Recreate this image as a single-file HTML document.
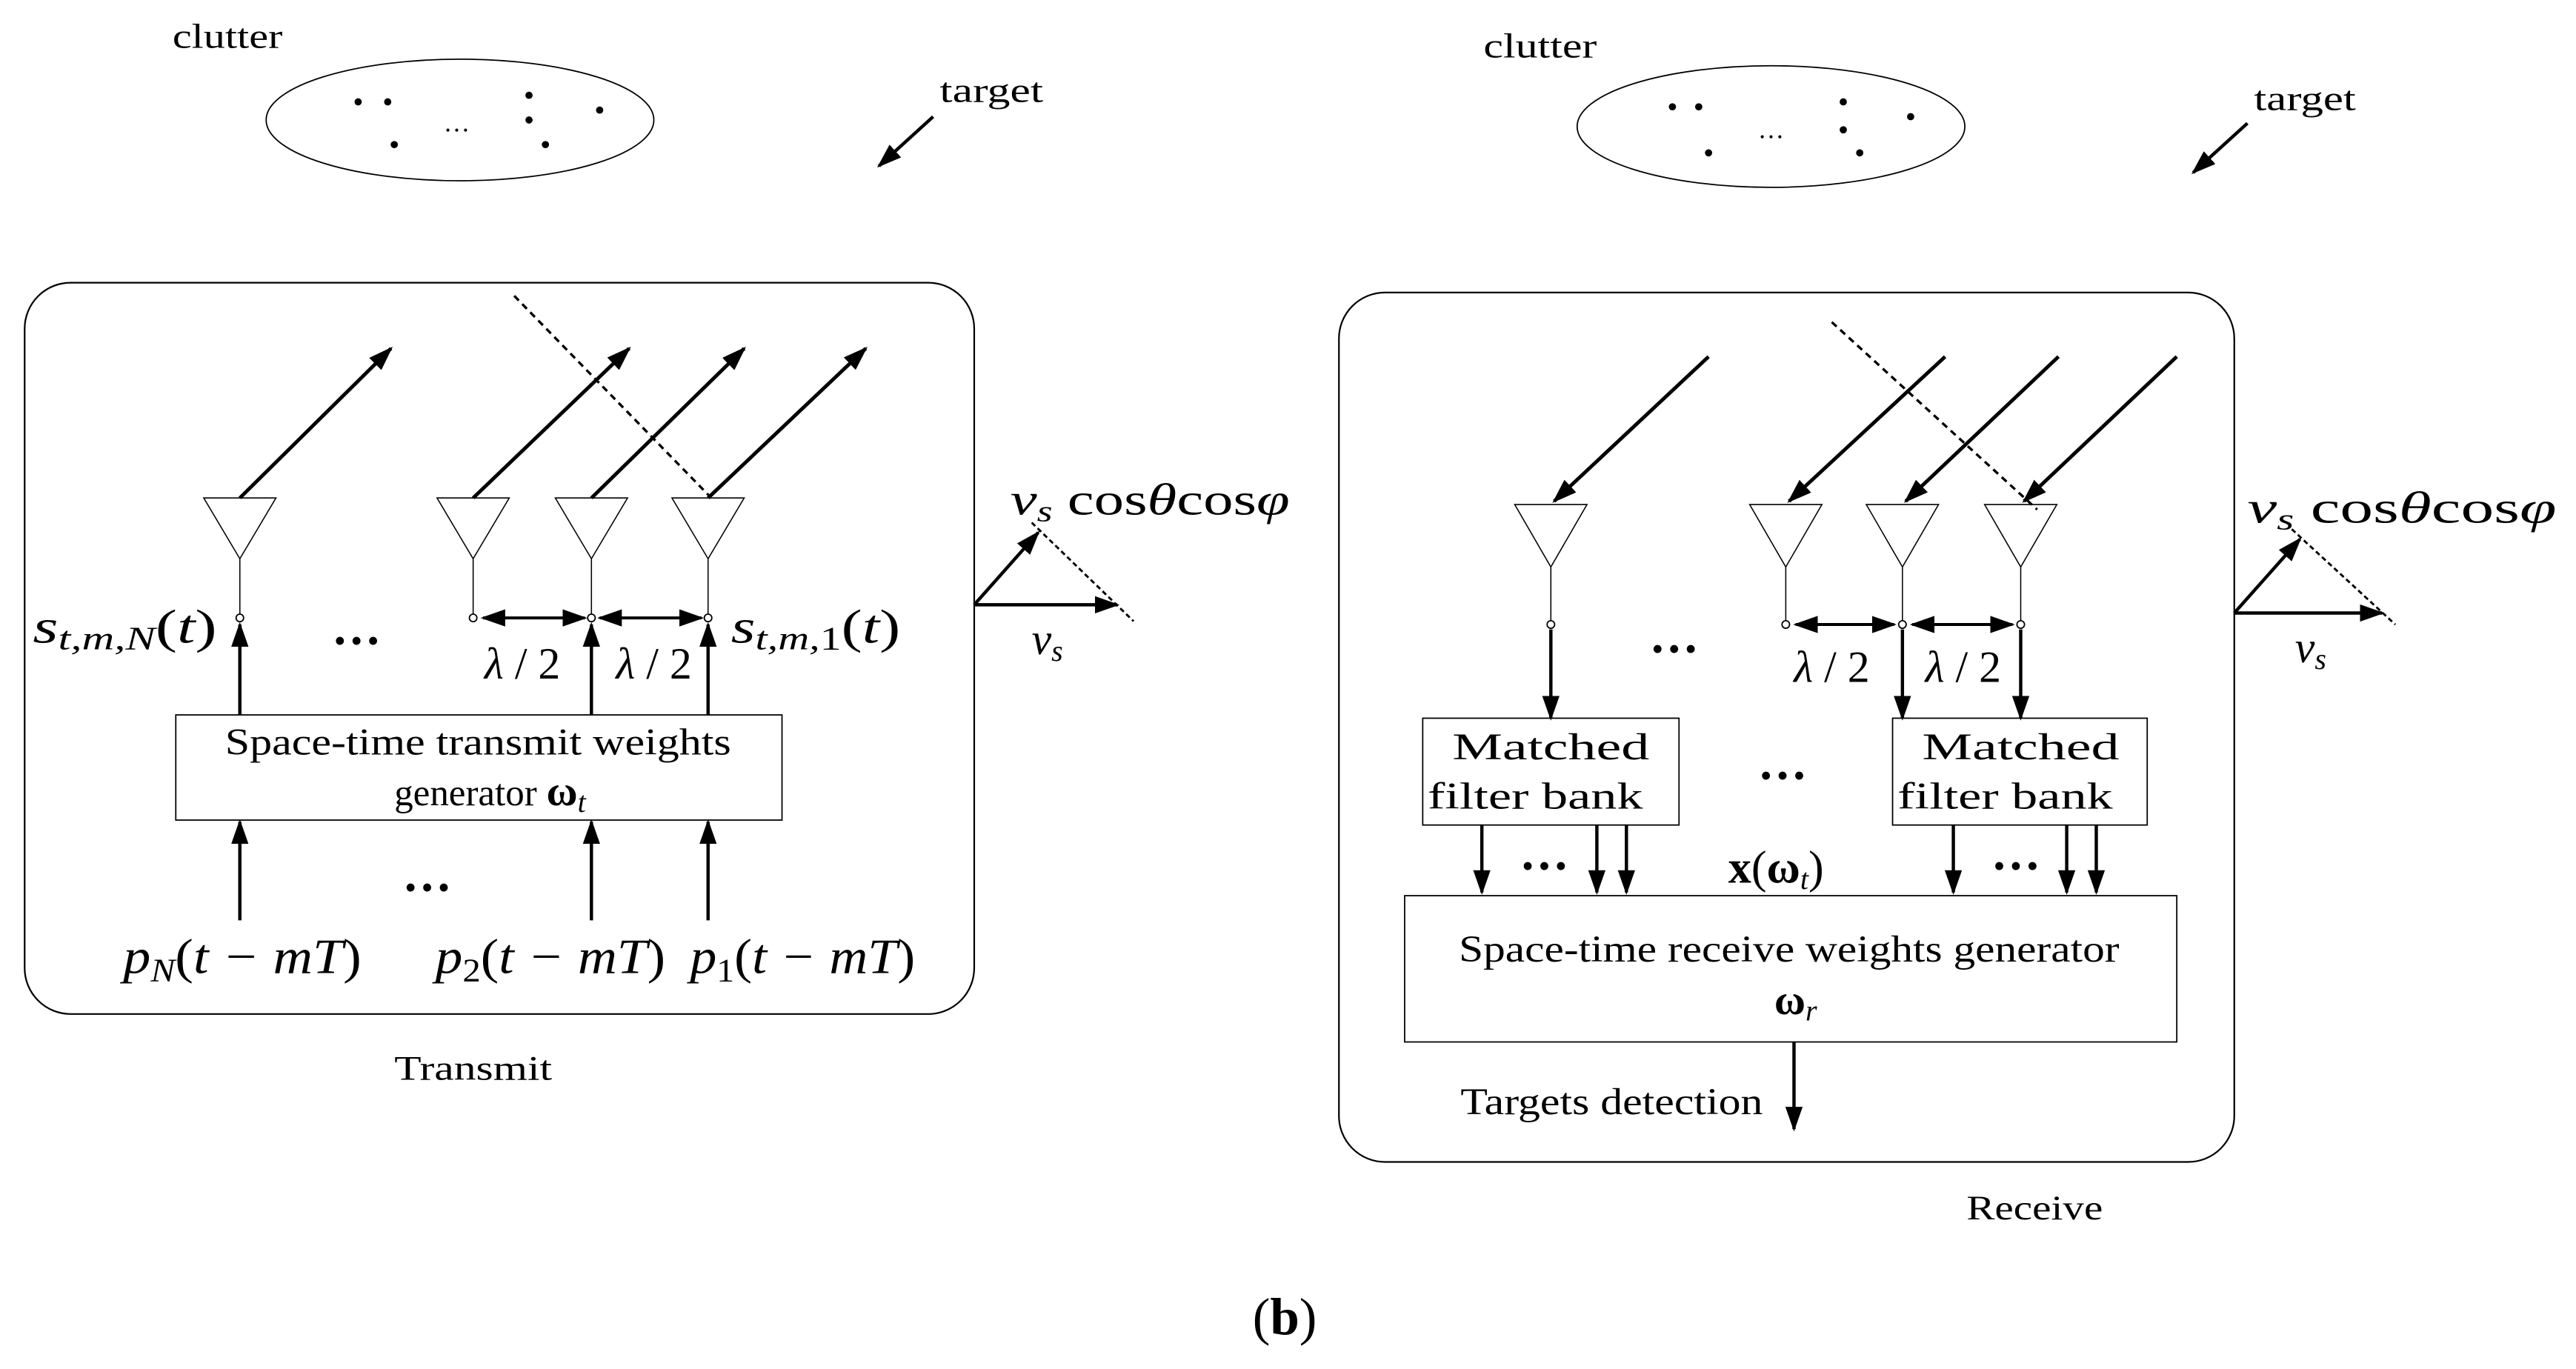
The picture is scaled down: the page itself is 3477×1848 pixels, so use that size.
<!DOCTYPE html>
<html><head><meta charset="utf-8"><style>
html,body{margin:0;padding:0;background:#fff}
svg{display:block}
text{font-family:"Liberation Serif",serif;fill:#000}
.m{font-style:italic}
</style></head><body>
<svg width="3477" height="1848" viewBox="0 0 1568 833" preserveAspectRatio="none" xmlns="http://www.w3.org/2000/svg">
<defs>
<marker id="a" viewBox="0 0 10 10" refX="9" refY="5" markerWidth="8" markerHeight="8" markerUnits="userSpaceOnUse" orient="auto-start-reverse"><path d="M0,0 L10,5 L0,10 z" fill="#000"/></marker>
<marker id="b" viewBox="0 0 10 10" refX="9" refY="5" markerWidth="15" markerHeight="15" markerUnits="userSpaceOnUse" orient="auto-start-reverse"><path d="M0,1.5 L10,5 L0,8.5 z" fill="#000"/></marker>
</defs>
<g stroke="#000" fill="none">
<ellipse cx="280" cy="73" rx="118" ry="37" stroke-width="0.8"/>
<ellipse cx="1078" cy="77" rx="118" ry="37" stroke-width="0.8"/>
<line x1="568" y1="71" x2="535" y2="101" stroke-width="2" marker-end="url(#b)"/>
<line x1="1368" y1="75" x2="1335" y2="105" stroke-width="2" marker-end="url(#b)"/>
<rect x="15" y="172" width="578" height="445" rx="28" stroke-width="1"/>
<rect x="107" y="435" width="369" height="64" stroke-width="0.8"/>
<rect x="815" y="178" width="545" height="529" rx="28" stroke-width="1"/>
<rect x="866" y="437" width="156" height="65" stroke-width="0.8"/>
<rect x="1152" y="437" width="155" height="65" stroke-width="0.8"/>
<rect x="855" y="545" width="470" height="89" stroke-width="0.8"/>
</g>
<g fill="#000">
<circle cx="218" cy="62" r="2.2"/><circle cx="236" cy="62" r="2.2"/><circle cx="240" cy="88" r="2.2"/><circle cx="322" cy="58" r="2.2"/><circle cx="322" cy="73" r="2.2"/><circle cx="332" cy="88" r="2.2"/><circle cx="365" cy="67" r="2.2"/>
<circle cx="1018" cy="65" r="2.2"/><circle cx="1034" cy="65" r="2.2"/><circle cx="1040" cy="93" r="2.2"/><circle cx="1122" cy="62" r="2.2"/><circle cx="1122" cy="79" r="2.2"/><circle cx="1132" cy="93" r="2.2"/><circle cx="1163" cy="71" r="2.2"/>
</g>
<text x="278" y="80" font-size="16" text-anchor="middle">…</text>
<text x="1078" y="84" font-size="16" text-anchor="middle">…</text>
<text x="105" y="29" font-size="21" textLength="67" lengthAdjust="spacingAndGlyphs">clutter</text>
<text x="903" y="35" font-size="21" textLength="69" lengthAdjust="spacingAndGlyphs">clutter</text>
<text x="572" y="62" font-size="21" textLength="63" lengthAdjust="spacingAndGlyphs">target</text>
<text x="1372" y="67" font-size="21" textLength="62" lengthAdjust="spacingAndGlyphs">target</text>

<g stroke="#000" fill="none">
<g stroke-width="0.7" fill="#fff">
<path d="M124,303 L168,303 L146,340 Z"/><path d="M266,303 L310,303 L288,340 Z"/><path d="M338,303 L382,303 L360,340 Z"/><path d="M409,303 L453,303 L431,340 Z"/>
</g>
<g stroke-width="0.7"><line x1="146" y1="340" x2="146" y2="374"/><line x1="288" y1="340" x2="288" y2="374"/><line x1="360" y1="340" x2="360" y2="374"/><line x1="431" y1="340" x2="431" y2="374"/></g>
<g stroke-width="0.8" fill="#fff"><circle cx="146" cy="376" r="2.3"/><circle cx="288" cy="376" r="2.3"/><circle cx="360" cy="376" r="2.3"/><circle cx="431" cy="376" r="2.3"/></g>
<g stroke-width="2.2"><line x1="146" y1="303" x2="238" y2="212" marker-end="url(#b)"/><line x1="288" y1="303" x2="383" y2="212" marker-end="url(#b)"/><line x1="360" y1="303" x2="453" y2="212" marker-end="url(#b)"/><line x1="431" y1="303" x2="527" y2="212" marker-end="url(#b)"/></g>
<line x1="313" y1="180" x2="432" y2="302" stroke-width="1.5" stroke-dasharray="4,3"/>
<g stroke-width="1.8"><line x1="294" y1="376" x2="356" y2="376" marker-start="url(#b)" marker-end="url(#b)"/><line x1="365" y1="376" x2="427" y2="376" marker-start="url(#b)" marker-end="url(#b)"/></g>
<g stroke-width="2"><line x1="146" y1="435" x2="146" y2="380" marker-end="url(#b)"/><line x1="360" y1="435" x2="360" y2="380" marker-end="url(#b)"/><line x1="431" y1="435" x2="431" y2="380" marker-end="url(#b)"/>
<line x1="146" y1="560" x2="146" y2="500" marker-end="url(#b)"/><line x1="360" y1="560" x2="360" y2="500" marker-end="url(#b)"/><line x1="431" y1="560" x2="431" y2="500" marker-end="url(#b)"/></g>
<g stroke-width="2"><line x1="593" y1="368" x2="680" y2="368" marker-end="url(#b)"/><line x1="593" y1="368" x2="632" y2="324" marker-end="url(#b)"/></g>
<line x1="628" y1="318" x2="690" y2="378" stroke-width="1.3" stroke-dasharray="3,2"/>
</g>
<text x="20" y="391" font-size="29" class="m" textLength="112" lengthAdjust="spacingAndGlyphs">s<tspan font-size="20" dy="4">t,m,N</tspan><tspan dy="-4" font-style="normal">(</tspan>t<tspan font-style="normal">)</tspan></text>
<text x="445" y="391" font-size="29" class="m" textLength="103" lengthAdjust="spacingAndGlyphs">s<tspan font-size="20" dy="4">t,m,</tspan><tspan font-size="20" font-style="normal">1</tspan><tspan dy="-4" font-style="normal">(</tspan>t<tspan font-style="normal">)</tspan></text>
<text x="217" y="392" font-size="30" font-weight="bold" text-anchor="middle">…</text>
<text x="260" y="542" font-size="30" font-weight="bold" text-anchor="middle">…</text>
<text x="318" y="413" font-size="27" text-anchor="middle"><tspan class="m">λ</tspan> / 2</text>
<text x="398" y="413" font-size="27" text-anchor="middle"><tspan class="m">λ</tspan> / 2</text>
<text x="137" y="459" font-size="23" textLength="308" lengthAdjust="spacingAndGlyphs">Space-time transmit weights</text>
<text x="240" y="490" font-size="23">generator  <tspan font-weight="bold" font-size="26">ω</tspan><tspan class="m" font-size="18" dy="4">t</tspan></text>
<text x="75" y="592" font-size="30" class="m" textLength="145" lengthAdjust="spacingAndGlyphs">p<tspan font-size="20" dy="5">N</tspan><tspan dy="-5" font-style="normal">(</tspan>t − mT<tspan font-style="normal">)</tspan></text>
<text x="265" y="592" font-size="30" class="m" textLength="140" lengthAdjust="spacingAndGlyphs">p<tspan font-size="20" dy="5" font-style="normal">2</tspan><tspan dy="-5" font-style="normal">(</tspan>t − mT<tspan font-style="normal">)</tspan></text>
<text x="420" y="592" font-size="30" class="m" textLength="137" lengthAdjust="spacingAndGlyphs">p<tspan font-size="20" dy="5" font-style="normal">1</tspan><tspan dy="-5" font-style="normal">(</tspan>t − mT<tspan font-style="normal">)</tspan></text>
<text x="240" y="657" font-size="21" textLength="96" lengthAdjust="spacingAndGlyphs">Transmit</text>
<text x="615" y="313" font-size="27" textLength="170" lengthAdjust="spacingAndGlyphs"><tspan class="m">v</tspan><tspan class="m" font-size="18" dy="4">s</tspan><tspan dy="-4"> cos</tspan><tspan class="m">θ</tspan>cos<tspan class="m">φ</tspan></text>
<text x="628" y="398" font-size="27" class="m">v<tspan font-size="18" dy="4">s</tspan></text>

<g stroke="#000" fill="none">
<g stroke-width="0.7" fill="#fff">
<path d="M922,307 L966,307 L944,345 Z"/><path d="M1065,307 L1109,307 L1087,345 Z"/><path d="M1136,307 L1180,307 L1158,345 Z"/><path d="M1208,307 L1252,307 L1230,345 Z"/>
</g>
<g stroke-width="0.7"><line x1="944" y1="345" x2="944" y2="378"/><line x1="1087" y1="345" x2="1087" y2="378"/><line x1="1158" y1="345" x2="1158" y2="378"/><line x1="1230" y1="345" x2="1230" y2="378"/></g>
<g stroke-width="0.8" fill="#fff"><circle cx="944" cy="380" r="2.3"/><circle cx="1087" cy="380" r="2.3"/><circle cx="1158" cy="380" r="2.3"/><circle cx="1230" cy="380" r="2.3"/></g>
<g stroke-width="2.2"><line x1="1040" y1="217" x2="946" y2="305" marker-end="url(#b)"/><line x1="1184" y1="217" x2="1089" y2="305" marker-end="url(#b)"/><line x1="1253" y1="217" x2="1160" y2="305" marker-end="url(#b)"/><line x1="1325" y1="217" x2="1232" y2="305" marker-end="url(#b)"/></g>
<line x1="1115" y1="196" x2="1240" y2="310" stroke-width="1.5" stroke-dasharray="4,3"/>
<g stroke-width="1.8"><line x1="1093" y1="380" x2="1153" y2="380" marker-start="url(#b)" marker-end="url(#b)"/><line x1="1164" y1="380" x2="1225" y2="380" marker-start="url(#b)" marker-end="url(#b)"/></g>
<g stroke-width="2"><line x1="944" y1="383" x2="944" y2="437" marker-end="url(#b)"/><line x1="1158" y1="383" x2="1158" y2="437" marker-end="url(#b)"/><line x1="1230" y1="383" x2="1230" y2="437" marker-end="url(#b)"/>
<line x1="902" y1="502" x2="902" y2="543" marker-end="url(#b)"/><line x1="972" y1="502" x2="972" y2="543" marker-end="url(#b)"/><line x1="990" y1="502" x2="990" y2="543" marker-end="url(#b)"/>
<line x1="1189" y1="502" x2="1189" y2="543" marker-end="url(#b)"/><line x1="1258" y1="502" x2="1258" y2="543" marker-end="url(#b)"/><line x1="1276" y1="502" x2="1276" y2="543" marker-end="url(#b)"/>
<line x1="1092" y1="634" x2="1092" y2="687" marker-end="url(#b)"/></g>
<g stroke-width="2"><line x1="1360" y1="373" x2="1450" y2="373" marker-end="url(#b)"/><line x1="1360" y1="373" x2="1400" y2="328" marker-end="url(#b)"/></g>
<line x1="1395" y1="322" x2="1458" y2="380" stroke-width="1.3" stroke-dasharray="3,2"/>
</g>
<text x="1019" y="397" font-size="30" font-weight="bold" text-anchor="middle">…</text>
<text x="1085" y="474" font-size="30" font-weight="bold" text-anchor="middle">…</text>
<text x="940" y="529" font-size="30" font-weight="bold" text-anchor="middle">…</text>
<text x="1227" y="529" font-size="30" font-weight="bold" text-anchor="middle">…</text>
<text x="1115" y="415" font-size="27" text-anchor="middle"><tspan class="m">λ</tspan> / 2</text>
<text x="1195" y="415" font-size="27" text-anchor="middle"><tspan class="m">λ</tspan> / 2</text>
<text x="884" y="462" font-size="23" textLength="120" lengthAdjust="spacingAndGlyphs">Matched</text>
<text x="869" y="492" font-size="23" textLength="131" lengthAdjust="spacingAndGlyphs">filter bank</text>
<text x="1170" y="462" font-size="23" textLength="120" lengthAdjust="spacingAndGlyphs">Matched</text>
<text x="1155" y="492" font-size="23" textLength="131" lengthAdjust="spacingAndGlyphs">filter bank</text>
<text x="1052" y="537" font-size="28"><tspan font-weight="bold">x</tspan>(<tspan font-weight="bold">ω</tspan><tspan class="m" font-size="18" dy="4">t</tspan><tspan dy="-4">)</tspan></text>
<text x="888" y="585" font-size="23" textLength="402" lengthAdjust="spacingAndGlyphs">Space-time receive weights generator</text>
<text x="1080" y="617" font-size="26" font-weight="bold">ω<tspan class="m" font-size="18" font-weight="normal" dy="4">r</tspan></text>
<text x="889" y="678" font-size="23" textLength="184" lengthAdjust="spacingAndGlyphs">Targets detection</text>
<text x="1197" y="742" font-size="21" textLength="83" lengthAdjust="spacingAndGlyphs">Receive</text>
<text x="1368" y="318" font-size="27" textLength="188" lengthAdjust="spacingAndGlyphs"><tspan class="m">v</tspan><tspan class="m" font-size="18" dy="4">s</tspan><tspan dy="-4"> cos</tspan><tspan class="m">θ</tspan>cos<tspan class="m">φ</tspan></text>
<text x="1397" y="403" font-size="27" class="m">v<tspan font-size="18" dy="4">s</tspan></text>
<text x="782" y="812" font-size="32" text-anchor="middle">(<tspan font-weight="bold">b</tspan>)</text>
</svg>
</body></html>
